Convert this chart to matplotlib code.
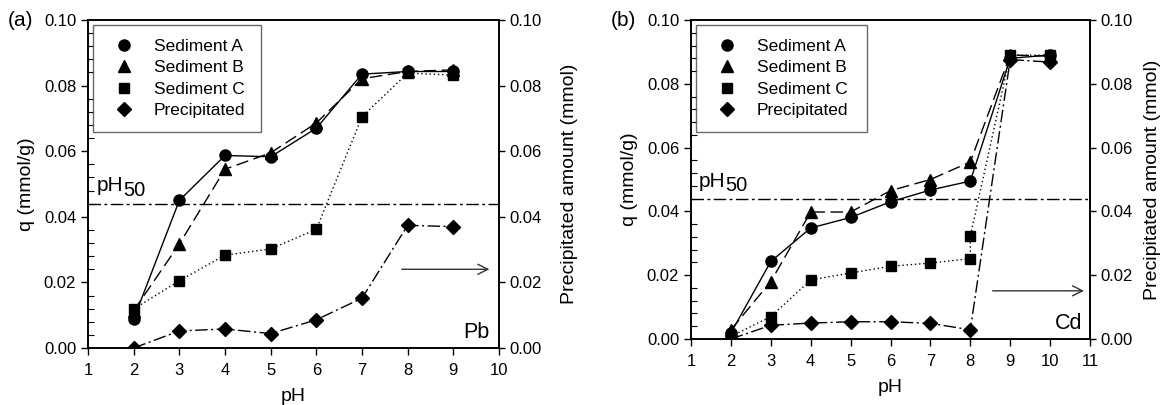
import matplotlib
matplotlib.use("Agg")
import matplotlib.pyplot as plt
from matplotlib.lines import Line2D
from matplotlib.ticker import MultipleLocator, FormatStrFormatter
from matplotlib.transforms import offset_copy

plt.rcParams['font.family'] = ['Liberation Sans', 'DejaVu Sans']

# Pb (panel a)
ph_pb = [2, 3, 4, 5, 6, 7, 8, 9]
pb_sed_a = [0.0088, 0.0450, 0.0587, 0.0583, 0.0670, 0.0835, 0.0843, 0.0843]
pb_sed_b = [0.0114, 0.0317, 0.0545, 0.0595, 0.0686, 0.0821, 0.0843, 0.0848]
pb_sed_c = [0.0119, 0.0205, 0.0283, 0.0302, 0.0362, 0.0705, 0.0838, 0.0832]
pb_prec = [0.0000, 0.0052, 0.0058, 0.0044, 0.0086, 0.0152, 0.0374, 0.0370]

# Cd (panel b)
ph_cd = [2, 3, 4, 5, 6, 7, 8, 9, 10]
cd_sed_a = [0.0019, 0.0243, 0.0348, 0.0381, 0.0430, 0.0467, 0.0495, 0.0880, 0.0890]
cd_sed_b = [0.0029, 0.0180, 0.0398, 0.0398, 0.0465, 0.0500, 0.0555, 0.0890, 0.0887]
ph_cd_c = [2, 3, 4, 5, 6, 7, 8, 8, 9, 10]
cd_sed_c = [0.0008, 0.0070, 0.0185, 0.0207, 0.0228, 0.0238, 0.0252, 0.0322, 0.0890, 0.0890]
cd_prec = [0.0000, 0.0043, 0.0050, 0.0054, 0.0054, 0.0049, 0.0029, 0.0876, 0.0868]

ph50 = 0.044
labels = ['Sediment A', 'Sediment B', 'Sediment C', 'Precipitated']

LONGDASH = (9, 4)
DOT = (1, 2)
DASHDOT = (9, 2.5, 1.5, 2.5)

fig = plt.figure(figsize=(11.64, 4.05), dpi=100)


def panel(rect, xmax, ph, sa, sb, ph_c, sc, prec, tag, metal, arrow_x, arrow_y,
          legend_w, right_pad):
    ax = fig.add_axes(rect)
    ax2 = ax.twinx()

    kw = dict(color='black', lw=1, markersize=8)
    ax.plot(ph, sa, '-', marker='o', **kw)
    ax.plot(ph, sb, marker='^', dashes=LONGDASH, **kw)
    ax.plot(ph_c, sc, marker='s', dashes=DOT, **dict(kw, markersize=7.5))
    ax2.plot(ph, prec, marker='D', dashes=DASHDOT, **dict(kw, markersize=7))

    # pH50 reference line with its label (subscript drawn as a shifted text)
    ax.axhline(ph50, color='black', lw=1, dashes=(9, 2.5, 2, 2.5))
    ax.text(1.2, ph50 + 0.0038, 'pH', fontsize=15, va='baseline')
    ax.text(1.2, ph50 + 0.0038, '50', fontsize=14.5, va='baseline',
            transform=offset_copy(ax.transData, fig=fig, x=19, y=-3.5, units='points'))

    ax.annotate('', xy=(arrow_x[1], arrow_y), xytext=(arrow_x[0], arrow_y),
                arrowprops=dict(arrowstyle='->', color='#333333', lw=1,
                                mutation_scale=18, shrinkA=0, shrinkB=0))
    ax.text(xmax - 0.2, 0.0015, metal, fontsize=15.5, ha='right', va='bottom')

    for a in (ax, ax2):
        a.set_xlim(1, xmax)
        a.set_ylim(0, 0.1)
        a.yaxis.set_major_locator(MultipleLocator(0.02))
        a.yaxis.set_major_formatter(FormatStrFormatter('%.2f'))
        for s in a.spines.values():
            s.set_linewidth(1.2)
    ax.xaxis.set_major_locator(MultipleLocator(1))
    ax.yaxis.set_minor_locator(MultipleLocator(0.004))
    ax.tick_params(axis='both', which='major', direction='out', length=5,
                   width=1, labelsize=12)
    ax.tick_params(axis='x', which='major', pad=6)
    ax.tick_params(axis='y', which='minor', direction='in', length=4, width=0.8)
    ax2.tick_params(axis='y', which='major', direction='out', length=4,
                    width=1, labelsize=12)

    ax.set_xlabel('pH', fontsize=14, labelpad=7)
    ax.set_ylabel('q (mmol/g)', fontsize=14, labelpad=6)
    ax2.set_ylabel('Precipitated amount (mmol)', fontsize=14, labelpad=right_pad)

    handles = [Line2D([], [], ls='none', marker=m, color='black', markersize=ms)
               for m, ms in zip(['o', '^', 's', 'D'], [8, 8, 7.5, 7])]
    leg = ax2.legend(handles, labels, loc='upper left',
                     bbox_to_anchor=(0.012, 0.985, legend_w, 0.0), mode='expand',
                     fontsize=12.5, frameon=True, fancybox=False,
                     borderpad=0.8, labelspacing=0.36, handletextpad=0.7,
                     handlelength=2.0, borderaxespad=0)
    leg.get_frame().set_edgecolor('#444444')
    leg.get_frame().set_linewidth(1.0)

    pos = ax.get_position()
    fig.text(pos.x0 - 0.069, pos.y1, tag, fontsize=15, va='center')
    return ax


panel([88 / 1164, 1 - 348 / 405, 411 / 1164, 328 / 405], 10,
      ph_pb, pb_sed_a, pb_sed_b, ph_pb, pb_sed_c, pb_prec,
      '(a)', 'Pb', (7.87, 9.79), 0.024, 0.41, 14)
panel([691 / 1164, 1 - 339 / 405, 399 / 1164, 319 / 405], 11,
      ph_cd, cd_sed_a, cd_sed_b, ph_cd_c, cd_sed_c, cd_prec,
      '(b)', 'Cd', (8.56, 10.85), 0.0151, 0.43, 8)

fig.savefig('out.png', dpi=100)
